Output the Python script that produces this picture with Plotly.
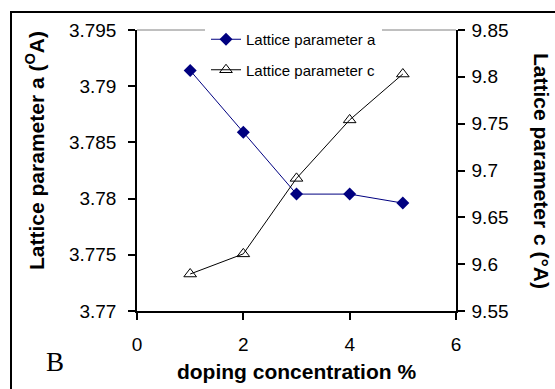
import plotly.graph_objects as go

doping = [1, 2, 3, 4, 5]
lattice_a = [3.7914, 3.7859, 3.7804, 3.7804, 3.7796]
lattice_c = [9.5895, 9.611, 9.6916, 9.754, 9.803]

x_ticks = [0, 2, 4, 6]
a_ticks = [3.77, 3.775, 3.78, 3.785, 3.79, 3.795]
a_labels = ["3.77", "3.775", "3.78", "3.785", "3.79", "3.795"]
c_ticks = [9.55, 9.6, 9.65, 9.7, 9.75, 9.8, 9.85]
c_labels = ["9.55", "9.6", "9.65", "9.7", "9.75", "9.8", "9.85"]

FONT = "Liberation Sans, Arial, sans-serif"
TICKF = dict(family=FONT, size=19, color="black")
TITLEF = dict(family=FONT, size=21, color="black")

fig = go.Figure()
fig.add_trace(go.Scatter(
    x=doping, y=lattice_a, name="Lattice parameter a", mode="lines+markers",
    line=dict(color="#000080", width=1),
    marker=dict(symbol="diamond", size=10, color="#000080"),
    legendgroup="a", yaxis="y"))
fig.add_trace(go.Scatter(
    x=doping, y=lattice_c, name="Lattice parameter c", mode="lines+markers",
    line=dict(color="black", width=1),
    marker=dict(symbol="triangle-up-open", size=11, color="black", line=dict(width=1)),
    legendgroup="c", yaxis="y2"))

axis_common = dict(showgrid=False, zeroline=False, showline=True, linecolor="black",
                   linewidth=1.5, tickcolor="black", tickwidth=1.5, ticklen=7,
                   tickfont=TICKF, automargin=False)

fig.update_layout(
    width=555, height=389,
    margin=dict(l=137, r=99, t=30, b=78),
    paper_bgcolor="white", plot_bgcolor="white",
    font=dict(family=FONT, color="black"),
    xaxis=dict(range=[0, 6], tickvals=x_ticks, ticks="outside", ticklabelstandoff=8,
               title=dict(text="<b>doping concentration %</b>", font=TITLEF, standoff=11),
               **axis_common),
    yaxis=dict(range=[3.77, 3.795], tickvals=a_ticks, ticktext=a_labels, ticks="outside",
               ticklabelstandoff=8, **axis_common),
    yaxis2=dict(range=[9.55, 9.85], tickvals=c_ticks, ticktext=c_labels, ticks="outside",
                overlaying="y", side="right", anchor="x", ticklabelstandoff=3,
                **axis_common),
    yaxis3=dict(range=[9.55, 9.85], tickvals=c_ticks, ticks="inside", showticklabels=False,
                overlaying="y", side="right", anchor="x", showgrid=False, zeroline=False,
                showline=False, tickcolor="black", tickwidth=1.5, ticklen=7,
                automargin=False),
    legend=dict(x=(205 - 137) / 319, xanchor="left", y=1 + (30 - 22) / 281, yanchor="top",
                bgcolor="white", bordercolor="white", borderwidth=1,
                traceorder="grouped", tracegroupgap=8,
                font=dict(family=FONT, size=15, color="black")),
    showlegend=True,
)

fig.add_shape(type="line", xref="paper", yref="paper", x0=0, x1=1, y0=1, y1=1,
              line=dict(color="#808080", width=1), layer="below")
fig.add_shape(type="rect", xref="paper", yref="paper",
              x0=(11 - 137) / 319, x1=(565 - 137) / 319,
              y0=-(400 - 311) / 281, y1=1 + (30 - 12) / 281,
              line=dict(color="black", width=2), fillcolor="rgba(0,0,0,0)")

fig.add_annotation(text="<b>Lattice parameter a (<sup>O</sup>A)</b>", textangle=-90,
                   xref="paper", yref="paper", x=(35 - 137) / 319, y=(311 - 151) / 281,
                   xanchor="center", yanchor="middle",
                   showarrow=False, font=TITLEF)
fig.add_annotation(text="<b>Lattice parameter c (°A)</b>", textangle=90,
                   xref="paper", yref="paper", x=(542 - 137) / 319, y=(311 - 171) / 281,
                   xanchor="center", yanchor="middle",
                   showarrow=False, font=TITLEF)
fig.add_annotation(text="B", xref="paper", yref="paper",
                   x=(55 - 137) / 319, y=(311 - 362) / 281, showarrow=False,
                   xanchor="center", yanchor="middle",
                   font=dict(family="Liberation Serif, Times New Roman, serif", size=27,
                             color="black"))

fig.write_html("out.html")
